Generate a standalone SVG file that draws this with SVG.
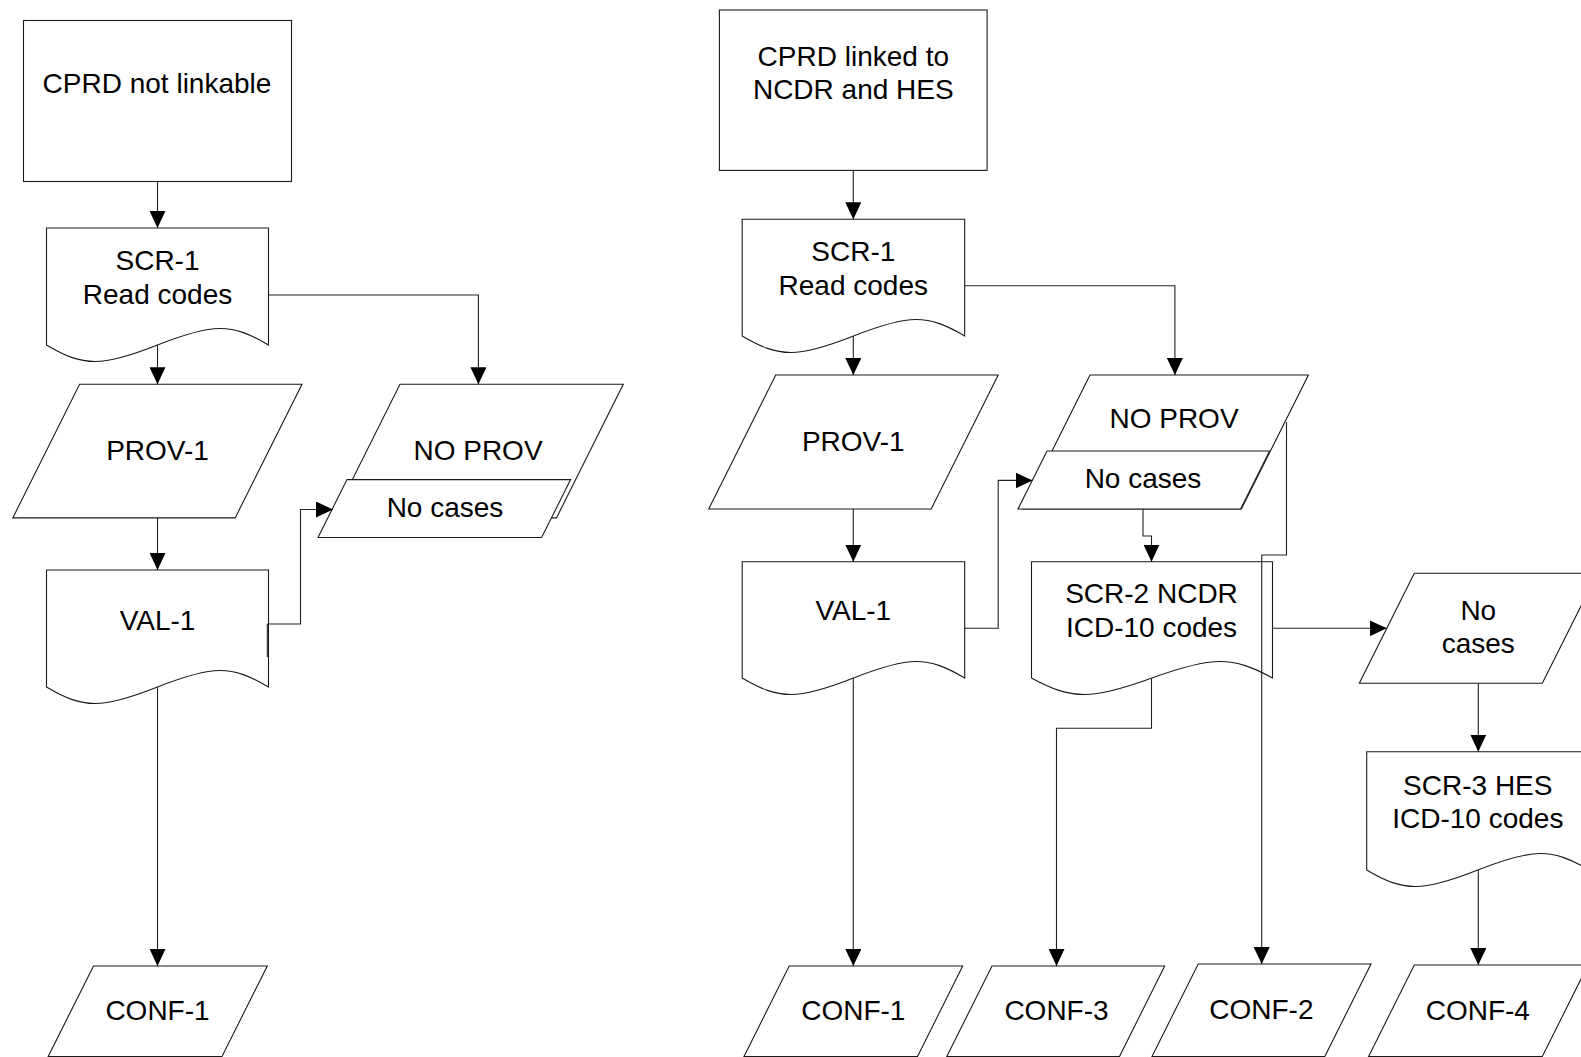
<svg xmlns="http://www.w3.org/2000/svg" width="1581" height="1057" viewBox="0 0 1581 1057">
<style>
.n{fill:#fff;stroke:#1a1a1a;stroke-width:1.1}
.c{fill:none;stroke:#222;stroke-width:1.1}
text{font-family:"Liberation Sans",Arial,sans-serif;font-size:28px;fill:#000;text-anchor:middle}
</style>
<defs>
<marker id="ah" markerWidth="17" markerHeight="16" refX="17" refY="8" orient="auto" markerUnits="userSpaceOnUse">
<path d="M0,0 L17,8 L0,16 z" fill="#000"/>
</marker>
</defs>
<rect width="1581" height="1057" fill="#fff"/>

<!-- Left column nodes -->
<g id="cprd-not-linkable">
<rect class="n" x="23.5" y="20.5" width="268" height="161"/>
<text x="157" y="93">CPRD not linkable</text>
</g>
<g id="l-scr1">
<path class="n" d="M46.5,228 H268.5 V345 C231.5,323 213,323 157.5,345 C102,367 83.5,367 46.5,345 Z"/>
<text x="157.5" y="270">SCR-1</text>
<text x="157.5" y="304">Read codes</text>
</g>
<g id="l-prov1">
<path class="n" d="M79.6,384.3 H302 L235.2,517.9 H12.8 Z"/>
<text x="157.5" y="459.5">PROV-1</text>
</g>
<g id="l-noprov">
<path class="n" d="M400,384.3 H623.3 L556.5,517.9 H333.2 Z"/>
<text x="478" y="459.5">NO PROV</text>
</g>
<g id="l-nocases">
<path class="n" d="M347,479.6 H570.6 L541.6,537.5 H318 Z"/>
<text x="445" y="517">No cases</text>
</g>
<g id="l-val1">
<path class="n" d="M46.5,570 H268.5 V687 C231.5,665 213,665 157.5,687 C102,709 83.5,709 46.5,687 Z"/>
<text x="157.5" y="629.5">VAL-1</text>
</g>
<g id="l-conf1">
<path class="n" d="M93.5,966 H267.3 L222,1056.5 H48.2 Z"/>
<text x="157.5" y="1020">CONF-1</text>
</g>

<!-- Right nodes -->
<g id="cprd-linked">
<rect class="n" x="719.4" y="10" width="267.7" height="160.4"/>
<text x="853.3" y="65.5">CPRD linked to</text>
<text x="853.3" y="98.5">NCDR and HES</text>
</g>
<g id="r-scr1">
<path class="n" d="M742.2,219.3 H964.7 V336 C927.6,314 909.1,314 853.5,336 C797.9,358 779.3,358 742.2,336 Z"/>
<text x="853.3" y="260.7">SCR-1</text>
<text x="853.3" y="294.6">Read codes</text>
</g>
<g id="r-prov1">
<path class="n" d="M775.7,375 H998.2 L931.2,509 H708.7 Z"/>
<text x="853.3" y="450.7">PROV-1</text>
</g>
<g id="r-noprov">
<path class="n" d="M1090,375 H1308.4 L1241.4,509 H1023 Z"/>
<text x="1174" y="428">NO PROV</text>
</g>
<g id="r-nocases">
<path class="n" d="M1047,451 H1269.6 L1240.6,509 H1018 Z"/>
<text x="1143" y="487.5">No cases</text>
</g>
<g id="r-val1">
<path class="n" d="M742.2,561.7 H964.7 V678 C927.6,656 909.1,656 853.5,678 C797.9,700 779.3,700 742.2,678 Z"/>
<text x="853.3" y="620">VAL-1</text>
</g>
<g id="r-scr2">
<path class="n" d="M1031.5,561.7 H1272.5 V678 C1232.3,656 1212.2,656 1152,678 C1091.8,700 1071.7,700 1031.5,678 Z"/>
<text x="1151.5" y="602.7">SCR-2 NCDR</text>
<text x="1151.5" y="637.3">ICD-10 codes</text>
</g>
<g id="r-nocases2">
<path class="n" d="M1414.3,573.3 H1597.3 L1542.3,683.3 H1359.3 Z"/>
<text x="1478.3" y="620">No</text>
<text x="1478.3" y="653">cases</text>
</g>
<g id="r-scr3">
<path class="n" d="M1366.7,751.7 H1589 V870 C1551.9,848 1533.4,848 1477.8,870 C1422.3,892 1403.8,892 1366.7,870 Z"/>
<text x="1477.8" y="795">SCR-3 HES</text>
<text x="1477.8" y="828.3">ICD-10 codes</text>
</g>
<g id="r-conf1">
<path class="n" d="M789.2,966 H962.7 L917.5,1056.5 H744 Z"/>
<text x="853.3" y="1019.5">CONF-1</text>
</g>
<g id="r-conf3">
<path class="n" d="M992,966 H1164.7 L1119.5,1056.5 H946.8 Z"/>
<text x="1056.5" y="1019.5">CONF-3</text>
</g>
<g id="r-conf2">
<path class="n" d="M1198.2,964 H1371 L1324.8,1056.5 H1152 Z"/>
<text x="1261.4" y="1018.5">CONF-2</text>
</g>
<g id="r-conf4">
<path class="n" d="M1414.3,965 H1588 L1542.3,1056.5 H1368.6 Z"/>
<text x="1477.8" y="1020">CONF-4</text>
</g>

<!-- Connectors -->
<g id="connectors">
<path class="c" d="M157.5,181.4 V227.9" marker-end="url(#ah)"/>
<path class="c" d="M157.5,345 V384.3" marker-end="url(#ah)"/>
<path class="c" d="M268.5,295 H478.4 V384.3" marker-end="url(#ah)"/>
<path class="c" d="M157.5,517.9 V570" marker-end="url(#ah)"/>
<path class="c" d="M267.3,624 H300.5 V509.5 H333" marker-end="url(#ah)"/>
<path class="c" d="M267.3,624 V657"/>
<path class="c" d="M157.5,687 V966" marker-end="url(#ah)"/>

<path class="c" d="M853.3,170.4 V219.3" marker-end="url(#ah)"/>
<path class="c" d="M853.3,336 V375" marker-end="url(#ah)"/>
<path class="c" d="M964.7,285.7 H1174.9 V375" marker-end="url(#ah)"/>
<path class="c" d="M853.3,509 V561.7" marker-end="url(#ah)"/>
<path class="c" d="M964.7,628.3 H998.2 V480.4 H1032.5" marker-end="url(#ah)"/>
<path class="c" d="M853.3,678 V966" marker-end="url(#ah)"/>
<path class="c" d="M1143,509 V536 H1151.5 V561.7" marker-end="url(#ah)"/>
<path class="c" d="M1286.5,422 V555 H1261.7 V964" marker-end="url(#ah)"/>
<path class="c" d="M1272.5,628.3 H1386.7" marker-end="url(#ah)"/>
<path class="c" d="M1151.5,678 V728.3 H1056.5 V966" marker-end="url(#ah)"/>
<path class="c" d="M1478.3,683.3 V751.7" marker-end="url(#ah)"/>
<path class="c" d="M1478.3,870 V965" marker-end="url(#ah)"/>
</g>
</svg>
